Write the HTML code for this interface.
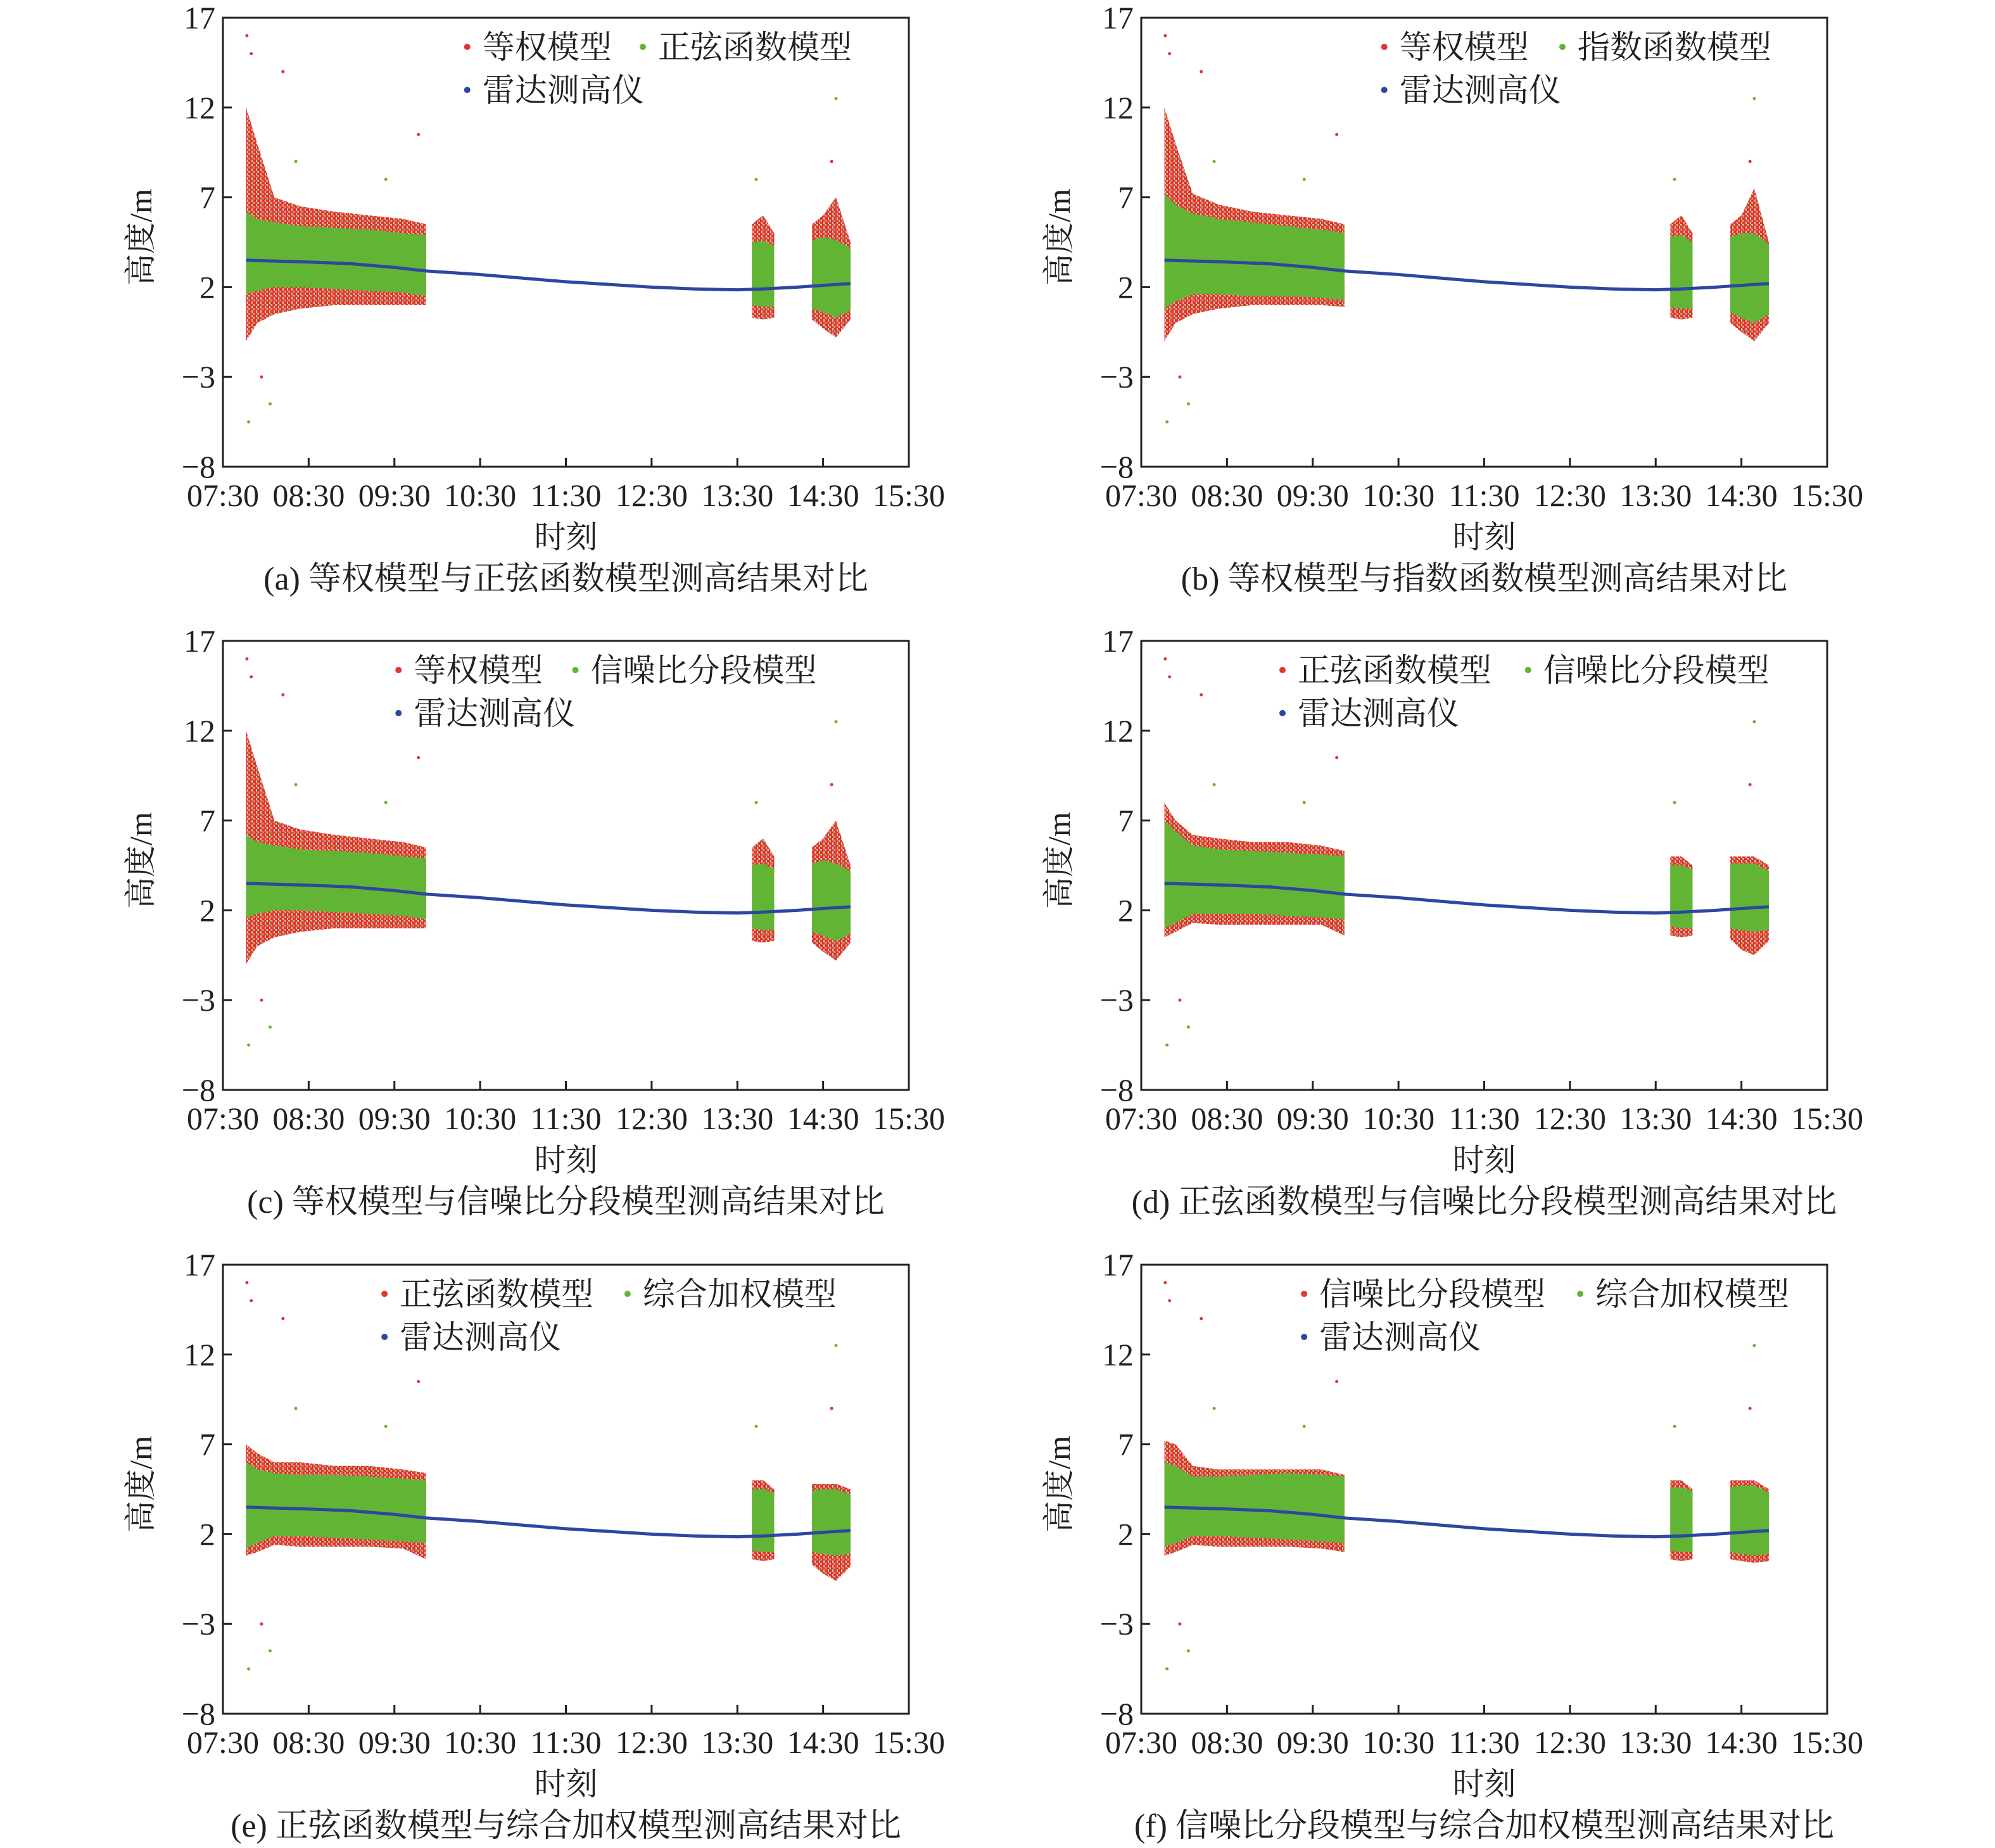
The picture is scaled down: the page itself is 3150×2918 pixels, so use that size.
<!DOCTYPE html>
<html><head><meta charset="utf-8"><style>
html,body{margin:0;padding:0;background:#fff}
svg{display:block}
text{font-family:"Liberation Serif","Noto Serif CJK SC","Noto Sans CJK SC",serif;fill:#231f20}
</style></head><body>
<svg id="fig" xmlns="http://www.w3.org/2000/svg" width="3150" height="2918" viewBox="0 0 3150 2918">
<defs>
<pattern id="redDots" width="7" height="7" patternUnits="userSpaceOnUse">
<rect x="0" y="0" width="7" height="7" fill="#f3b3ad"/>
<rect x="0" y="0" width="5" height="4" fill="#e2352f"/>
<rect x="3" y="4" width="4" height="3" fill="#e2352f"/>
<rect x="0" y="5" width="2" height="2" fill="#62b534"/>
</pattern>
</defs>
</svg>
<script>
const xTickLabels = ["07:30","08:30","09:30","10:30","11:30","12:30","13:30","14:30","15:30"];
const yTickValues = [-8,-3,2,7,12,17];
const radarT = [7.77,8.5,9.0,9.5,9.87,10.5,11.0,11.5,12.0,12.5,13.0,13.5,13.8,14.2,14.5,14.82];
const radarV = [3.5,3.4,3.3,3.1,2.9,2.7,2.5,2.3,2.15,2.0,1.9,1.85,1.9,2.0,2.1,2.2];
const clusterT = [[7.77,7.9,8.1,8.4,8.8,9.2,9.6,9.87],[13.67,13.8,13.93],[14.37,14.5,14.65,14.82]];
const legendA = ["等权模型","等权模型","等权模型","正弦函数模型","正弦函数模型","信噪比分段模型"];
const legendB = ["正弦函数模型","指数函数模型","信噪比分段模型","信噪比分段模型","综合加权模型","综合加权模型"];
const captions = ["(a) 等权模型与正弦函数模型测高结果对比","(b) 等权模型与指数函数模型测高结果对比","(c) 等权模型与信噪比分段模型测高结果对比","(d) 正弦函数模型与信噪比分段模型测高结果对比","(e) 正弦函数模型与综合加权模型测高结果对比","(f) 信噪比分段模型与综合加权模型测高结果对比"];
const redHi = [
 [12,10,7,6.5,6.2,6,5.8,5.5, 5.5,6,5, 5.5,6,7,4.5],
 [12,10,7.2,6.6,6.2,6,5.8,5.5, 5.5,6,5, 5.5,6,7.5,4.5],
 [12,10,7,6.5,6.2,6,5.8,5.5, 5.5,6,5, 5.5,6,7,4.5],
 [8,7,6.2,6,5.8,5.8,5.6,5.3, 5,5,4.5, 5,5,5,4.5],
 [7,6.5,6,6,5.8,5.8,5.6,5.4, 5,5,4.5, 4.8,4.8,4.8,4.5],
 [7.2,7,5.8,5.6,5.6,5.6,5.6,5.3, 5,5,4.5, 5,5,5,4.5]];
const greenHi = [
 [6.2,5.8,5.6,5.4,5.3,5.2,5.0,4.9, 4.5,4.6,4.3, 4.6,4.8,4.6,4.2],
 [7.2,6.6,6.1,5.8,5.6,5.4,5.2,5.0, 4.8,4.9,4.5, 4.8,5,5,4.4],
 [6.2,5.8,5.6,5.4,5.3,5.2,5.0,4.9, 4.5,4.6,4.3, 4.6,4.8,4.6,4.2],
 [7,6.4,5.6,5.4,5.3,5.2,5.1,5, 4.5,4.5,4.3, 4.6,4.6,4.6,4.2],
 [6,5.6,5.4,5.3,5.3,5.2,5.1,5, 4.5,4.5,4.3, 4.4,4.5,4.5,4.2],
 [6,5.8,5.2,5.2,5.3,5.4,5.3,5.2, 4.6,4.6,4.4, 4.6,4.7,4.7,4.3]];
const greenLo = [
 [1.6,1.8,2.0,2.0,1.9,1.8,1.7,1.5, 1.0,0.9,0.9, 0.8,0.6,0.3,0.7],
 [0.8,1.2,1.6,1.6,1.5,1.5,1.4,1.3, 0.9,0.8,0.8, 0.6,0.3,0.0,0.5],
 [1.6,1.8,2.0,2.0,1.9,1.8,1.7,1.5, 1.0,0.9,0.9, 0.8,0.6,0.3,0.7],
 [1.0,1.3,1.8,1.8,1.8,1.7,1.6,1.5, 1.1,1.0,1.0, 1.0,0.9,0.8,0.9],
 [1.2,1.5,1.9,1.9,1.8,1.7,1.6,1.5, 1.1,1.0,1.0, 1.0,0.9,0.8,0.9],
 [1.3,1.5,1.9,1.9,1.8,1.7,1.6,1.5, 1.1,1.0,1.0, 1.0,0.9,0.8,0.9]];
const redLo = [
 [-1,0,0.5,0.8,1,1,1,1, 0.3,0.2,0.3, 0.2,-0.3,-0.8,0.2],
 [-1,0,0.5,0.8,1,1,1,0.9, 0.3,0.2,0.3, 0.0,-0.5,-1,0.0],
 [-1,0,0.5,0.8,1,1,1,1, 0.3,0.2,0.3, 0.2,-0.3,-0.8,0.2],
 [0.5,0.8,1.3,1.2,1.2,1.2,1.2,0.6, 0.6,0.5,0.6, 0.4,-0.2,-0.5,0.3],
 [0.8,1,1.4,1.3,1.3,1.3,1.2,0.6, 0.6,0.5,0.6, 0.3,-0.2,-0.6,0.2],
 [0.8,1,1.4,1.3,1.3,1.3,1.2,1.0, 0.6,0.5,0.6, 0.6,0.5,0.4,0.5]];
const outT = [7.78,7.8,7.83,8.05,8.2,9.4,9.78,13.72,14.6,14.65,7.95,8.35];
const outV = [16,-5.5,15,-4.5,14,8,10.5,8,9,12.5,-3,9];

const svg = document.getElementById('fig');
const NS = 'http://www.w3.org/2000/svg';
function mk(tag, attrs, parent){const e=document.createElementNS(NS,tag);for(const k in attrs)e.setAttribute(k,attrs[k]);parent.appendChild(e);return e;}
const lefts=[352,1802], tops=[28,1012,1997], W=1083, H=709;
for(let p=0;p<6;p++){
  const L=lefts[p%2], T=tops[Math.floor(p/2)];
  const g=mk('g',{},svg);
  
  
  const xs=h=>L+(h-7.5)/8*W, ys=v=>T+H-(v+8)/25*H;
  let idx=0;
  clusterT.forEach((ct,ci)=>{
    const n=ct.length, seg=(arr)=>arr[p].slice(idx,idx+n);
    const rh=seg(redHi), gh=seg(greenHi), gl=seg(greenLo), rl=seg(redLo);
    const poly=(hi,lo)=>ct.map((t,i)=>xs(t)+','+ys(hi[i])).join(' ')+' '+ct.map((t,i)=>xs(t)+','+ys(lo[i])).reverse().join(' ');
    const r=mk('polygon',{points:poly(rh,rl),fill:'url(#redDots)'},g);
    
    
    const gr=mk('polygon',{points:poly(gh,gl),fill:'#62b534'},g);
    
    
    idx+=n;
  });
  outT.forEach((t,i)=>{
    const d=mk('circle',{cx:xs(t),cy:ys(outV[i]),r:2.5,fill:i%2?'#62b534':'#e2352f'},g);
    
    
  });
  const line=mk('polyline',{points:radarT.map((t,i)=>xs(t)+','+ys(radarV[i])).join(' '),fill:'none',stroke:'#2d47a0','stroke-width':5},g);
  
  
  const box=mk('rect',{x:L,y:T,width:W,height:H,fill:'none',stroke:'#231f20','stroke-width':3},g);
  
  
  xTickLabels.forEach((lab,i)=>{
    const x=L+i*W/8;
    if(i>0&&i<8){const tk=mk('line',{x1:x,x2:x,y1:T+H,y2:T+H-14,stroke:'#231f20','stroke-width':3},g);
      }
    const tx=mk('text',{x:x,y:T+H+62,'font-size':50,'text-anchor':'middle'},g);tx.textContent=lab;
    
  });
  yTickValues.forEach(v=>{
    const y=ys(v);
    if(v>-8&&v<17){const tk=mk('line',{x1:L,x2:L+14,y1:y,y2:y,stroke:'#231f20','stroke-width':3},g);
      }
    const tx=mk('text',{x:L-12,y:y+17,'font-size':50,'text-anchor':'end'},g);tx.textContent=v<0?'\u2212'+(-v):String(v);
    
  });
  const yl=mk('text',{x:0,y:0,'font-size':50,'text-anchor':'middle',transform:`translate(${L-113},${T+H/2-8}) rotate(-90)`},g);
  yl.textContent='高度/m';
  const xl=mk('text',{x:L+W/2,y:T+H+128,'font-size':50,'text-anchor':'middle'},g);
  xl.textContent='时刻';
  const cap=mk('text',{x:L+W/2,y:T+H+194,'font-size':52,'text-anchor':'middle'},g);
  cap.textContent=captions[p];
  const offA=[192,191,138,111,127,128][p]*2.009, offB=[330,331,277,304,318,345][p]*2.009;
  const r1=T+46, r2=T+114;
  [[offA,r1,'#e2352f',legendA[p]],[offB,r1,'#62b534',legendB[p]],[offA,r2,'#2d47a0','雷达测高仪']].forEach(it=>{
    const lg=mk('g',{},g);
    
    
    mk('circle',{cx:L+it[0],cy:it[1],r:5,fill:it[2]},lg);
    const t=mk('text',{x:L+it[0]+24,y:it[1]+18,'font-size':51},lg);t.textContent=it[3];
  });
}
</script>
</body></html>
